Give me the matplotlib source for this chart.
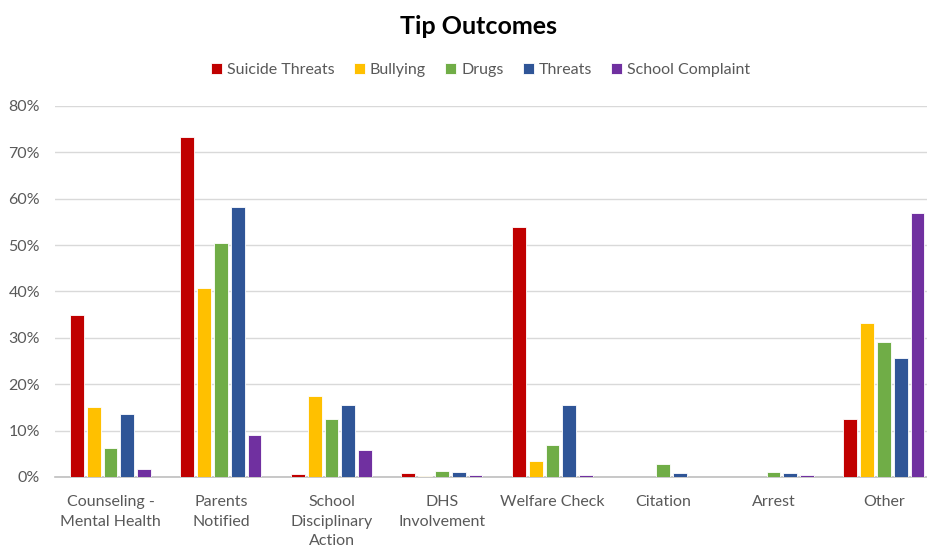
import matplotlib.pyplot as plt
import numpy as np
from matplotlib.ticker import FuncFormatter

categories = ["Counseling -\nMental Health", "Parents\nNotified", "School\nDisciplinary\nAction",
              "DHS\nInvolvement", "Welfare Check", "Citation", "Arrest", "Other"]
series = ["Suicide Threats", "Bullying", "Drugs", "Threats", "School Complaint"]
suicide = [35.0, 73.4, 0.6, 0.8, 53.9, 0.0, 0.0, 12.4]
bullying = [15.0, 40.8, 17.4, 0.3, 3.5, 0.0, 0.0, 33.3]
drugs = [6.2, 50.5, 12.6, 1.2, 6.8, 2.8, 1.0, 29.0]
threats = [13.5, 58.3, 15.5, 1.0, 15.5, 0.8, 0.8, 25.7]
complaint = [1.8, 9.0, 5.8, 0.4, 0.5, 0.0, 0.4, 57.0]
colors = ["#C00000", "#FFC000", "#70AD47", "#2F5597", "#7030A0"]

plt.rcParams['font.family'] = ['Lato', 'DejaVu Sans']
fig = plt.figure(figsize=(9.28, 5.48), dpi=100)
ax = fig.add_axes([0.0595, 0.1296, 0.9526, 0.677])

x = np.arange(len(categories))
step = 0.152
width = 0.125
data = [suicide, bullying, drugs, threats, complaint]
for i, vals in enumerate(data):
    ax.bar(x + (i - 2) * step, np.array(vals) / 100, width, color=colors[i],
           edgecolor="white", linewidth=0.6, label=series[i], zorder=3)

ax.set_xlim(-0.5, len(categories) - 0.5)
ax.set_ylim(0, 0.8)
ax.set_yticks(np.arange(0, 0.81, 0.1))
ax.yaxis.set_major_formatter(FuncFormatter(lambda v, p: "%d%%" % round(v * 100)))
ax.set_xticks(x)
ax.set_xticklabels(categories, linespacing=1.5)
ax.tick_params(axis='both', length=0, labelsize=11.5, colors="#595959")
ax.tick_params(axis='x', pad=13)
ax.tick_params(axis='y', pad=11)
ax.grid(axis='y', color="#d9d9d9", linewidth=1, zorder=0)
for s in ["top", "right", "left"]:
    ax.spines[s].set_visible(False)
ax.spines["bottom"].set_color("#bfbfbf")
ax.spines["bottom"].set_linewidth(1.2)

fig.text(0.516, 0.951, "Tip Outcomes", ha="center", va="center", fontsize=18, fontweight="bold", color="black")
leg = fig.legend(loc="center", bbox_to_anchor=(0.518, 0.872), ncol=5, frameon=False,
                 handlelength=0.7, handleheight=0.7, handletextpad=0.3, columnspacing=1.2,
                 fontsize=11.5)
for t in leg.get_texts():
    t.set_color("#595959")

fig.savefig("out.png", dpi=100)
